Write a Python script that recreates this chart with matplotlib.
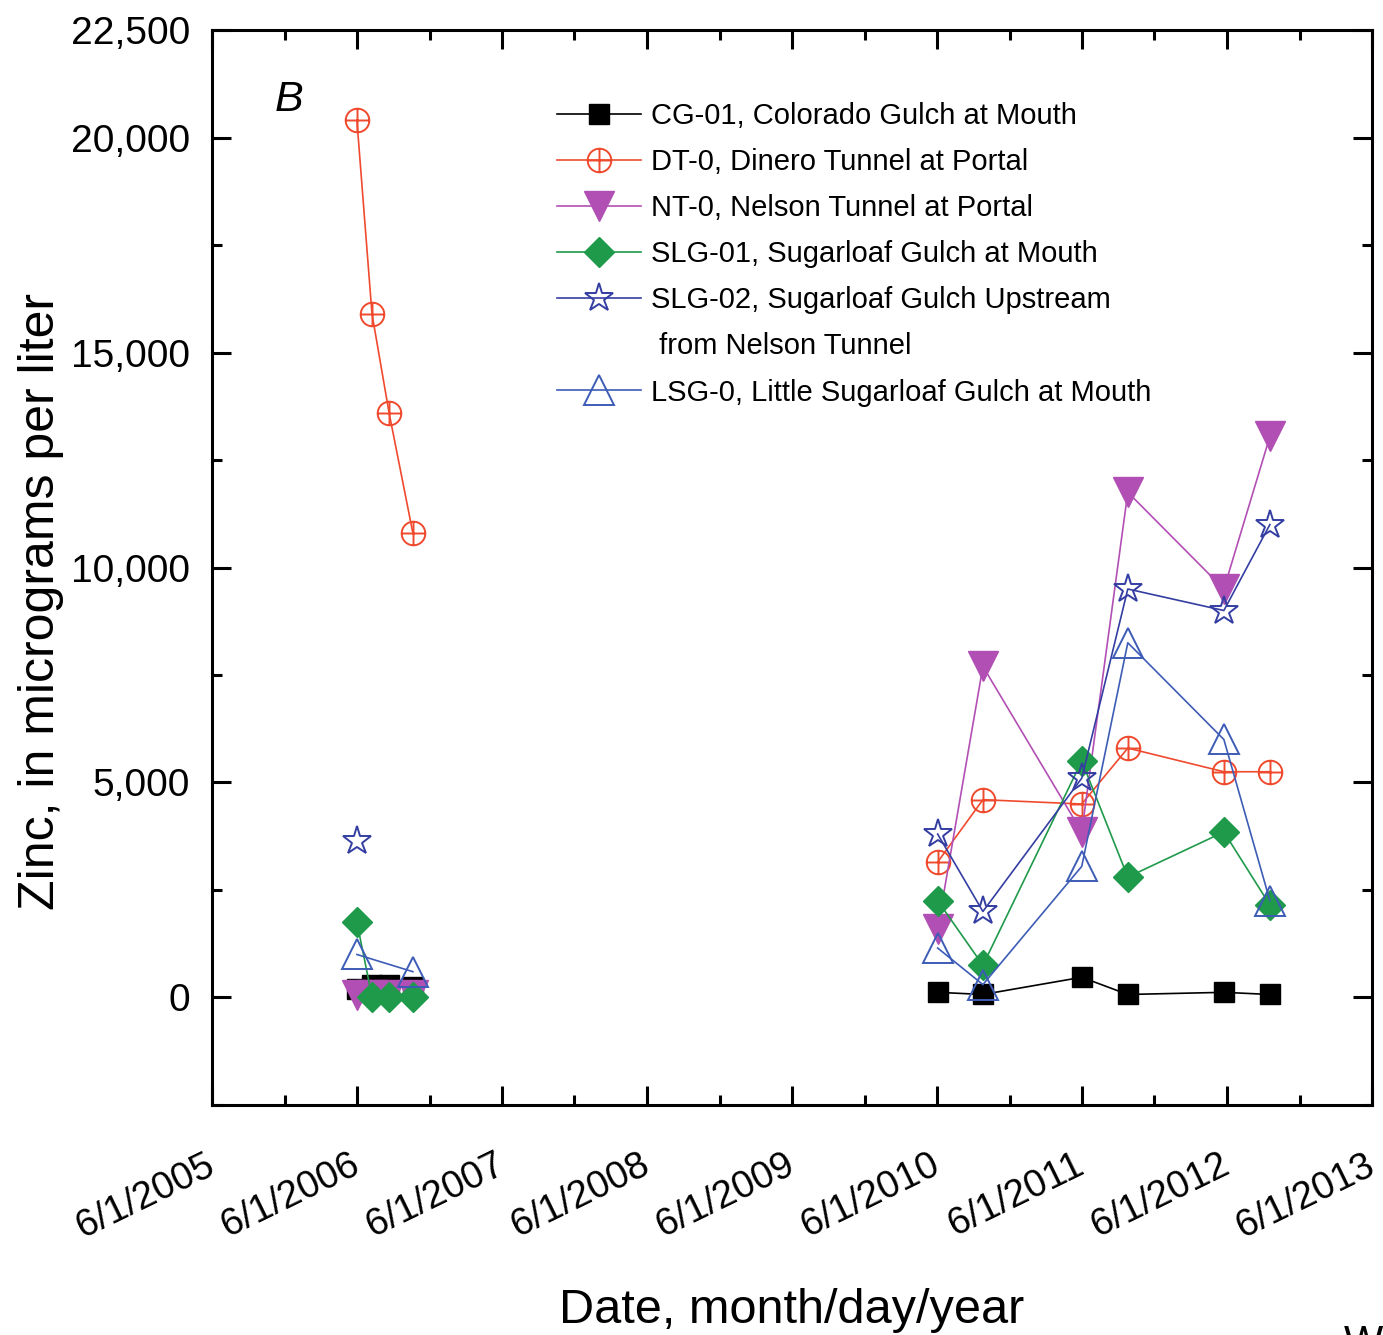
import datetime as dt
import matplotlib
matplotlib.use("Agg")
import matplotlib.pyplot as plt
import matplotlib.dates as mdates
from matplotlib.path import Path
from matplotlib.lines import Line2D
from matplotlib.ticker import FuncFormatter, MultipleLocator

plt.rcParams['font.family'] = ['Liberation Sans', 'DejaVu Sans']

# sampling dates
dates_2006 = [dt.date(2006, 6, 1), dt.date(2006, 7, 9), dt.date(2006, 8, 21), dt.date(2006, 10, 20)]
dates_2010 = [dt.date(2010, 6, 3), dt.date(2010, 9, 25), dt.date(2011, 6, 1),
              dt.date(2011, 9, 25), dt.date(2012, 5, 24), dt.date(2012, 9, 17)]

# zinc, micrograms per liter
cg01_2006 = [200, 300, 300, 250]
cg01_2010 = [120, 70, 470, 70, 120, 70]

dt0_2006 = [20400, 15900, 13600, 10800]
dt0_2010 = [3150, 4600, 4500, 5800, 5250, 5250]

nt0_2006 = [50, 50, 50, 50]
nt0_2010 = [1600, 7700, 3850, 11750, 9500, 13050]

slg01_2006 = [1750, 20, 20, 20]
slg01_2010 = [2250, 750, 5500, 2800, 3850, 2150]

slg02_dates_2006 = [dt.date(2006, 6, 1)]
slg02_2006 = [3650]
slg02_2010 = [3800, 2000, 5100, 9500, 9000, 11000]

lsg0_dates_2006 = [dt.date(2006, 6, 1), dt.date(2006, 10, 20)]
lsg0_2006 = [1000, 600]
lsg0_2010 = [1150, 300, 3050, 8250, 6000, 2250]

labels = ['CG-01, Colorado Gulch at Mouth',
          'DT-0, Dinero Tunnel at Portal',
          'NT-0, Nelson Tunnel at Portal',
          'SLG-01, Sugarloaf Gulch at Mouth',
          'SLG-02, Sugarloaf Gulch Upstream',
          'LSG-0, Little Sugarloaf Gulch at Mouth']
label_cont = ' from Nelson Tunnel'

# circle with a cross inside
oplus = Path.make_compound_path(
    Path.unit_circle(),
    Path([[-1, 0], [1, 0], [0, -1], [0, 1]],
         [Path.MOVETO, Path.LINETO, Path.MOVETO, Path.LINETO]))

styles = [
    dict(color='black', marker='s', ms=15, mfc='black', mec='black'),
    dict(color='#f04a2e', marker=oplus, ms=17, mfc='none', mec='#f04a2e', mew=1.4),
    dict(color='#b24fb4', marker='v', ms=21, mfc='#b24fb4', mec='#b24fb4'),
    dict(color='#1f9a4a', marker='D', ms=15, mfc='#1f9a4a', mec='#1f9a4a'),
    dict(color='#343ea2', marker='*', ms=21, mfc='none', mec='#343ea2', mew=1.4),
    dict(color='#3d5cb6', marker='^', ms=21, mfc='none', mec='#3d5cb6', mew=1.4),
]

series = [
    (dates_2006, cg01_2006, dates_2010, cg01_2010),
    (dates_2006, dt0_2006, dates_2010, dt0_2010),
    (dates_2006, nt0_2006, dates_2010, nt0_2010),
    (dates_2006, slg01_2006, dates_2010, slg01_2010),
    (slg02_dates_2006, slg02_2006, dates_2010, slg02_2010),
    (lsg0_dates_2006, lsg0_2006, dates_2010, lsg0_2010),
]

fig = plt.figure(figsize=(13.83, 13.35), dpi=100)
ax = fig.add_axes([0.1533, 0.1723, 0.8387, 0.8052])

handles = []
for (d1, v1, d2, v2), st in zip(series, styles):
    h, = ax.plot(d1, v1, lw=1.2, **st)
    ax.plot(d2, v2, lw=1.2, **st)
    handles.append(h)

ax.set_xlim(dt.date(2005, 6, 1), dt.date(2013, 6, 1))
ax.set_ylim(-2500, 22500)

ax.xaxis.set_major_locator(mdates.MonthLocator(bymonth=6, bymonthday=1))
ax.xaxis.set_minor_locator(mdates.MonthLocator(bymonth=12, bymonthday=1))
ax.xaxis.set_major_formatter(FuncFormatter(
    lambda x, pos: '{0.month}/{0.day}/{0.year}'.format(mdates.num2date(x))))
ax.yaxis.set_major_locator(MultipleLocator(5000))
ax.yaxis.set_minor_locator(MultipleLocator(2500))
ax.yaxis.set_major_formatter(FuncFormatter(lambda y, pos: f'{int(y):,}'))
ax.set_yticks([0, 5000, 10000, 15000, 20000, 22500])

ax.tick_params(which='both', direction='in', top=True, right=True, width=2.2)
ax.tick_params(which='major', length=14)
ax.tick_params(which='minor', length=7)
ax.tick_params(axis='y', labelsize=28, pad=16)
ax.tick_params(axis='x', labelsize=27.5, pad=42)
for lbl in ax.get_xticklabels():
    lbl.set_rotation(26)
    lbl.set_ha('right')
    lbl.set_va('center')
    lbl.set_rotation_mode('anchor')
for sp in ax.spines.values():
    sp.set_linewidth(2.2)

ax.set_ylabel('Zinc, in micrograms per liter', fontsize=36)
ax.yaxis.set_label_coords(-0.128, 0.468)
ax.set_xlabel('Date, month/day/year', fontsize=35)
ax.xaxis.set_label_coords(0.5, -0.17)

ax.text(0.054, 0.935, 'B', transform=ax.transAxes, fontsize=31, style='italic',
        va='center', ha='left')

# second line of the SLG-02 label has no symbol
handles.insert(5, Line2D([], [], color='none'))
leg_labels = labels[:5] + [label_cont] + labels[5:]
ax.legend(handles, leg_labels, loc='upper left', bbox_to_anchor=(0.297, 0.933),
          frameon=False, fontsize=21, handlelength=2.9, handletextpad=0.35,
          labelspacing=0.62, borderpad=0, borderaxespad=0)

fig.text(0.972, -0.022, 'W', fontsize=30, va='bottom', ha='left')

fig.savefig('out.png', dpi=100)
